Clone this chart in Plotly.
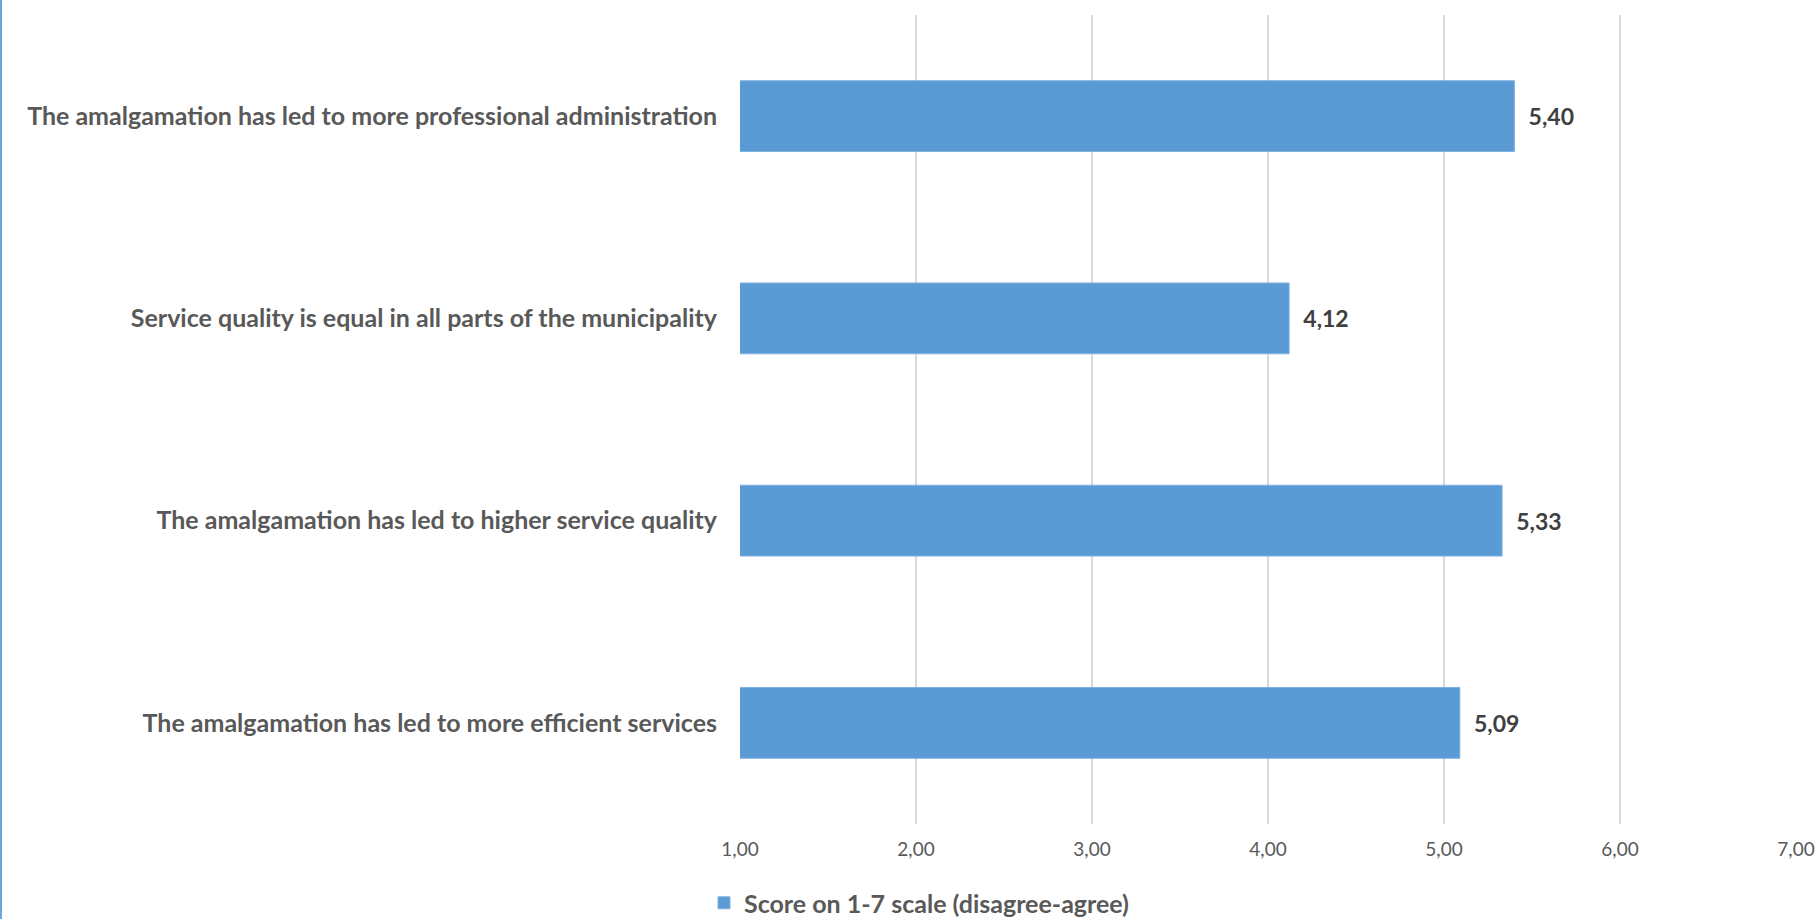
import plotly.graph_objects as go

categories = [
    "The amalgamation has led to more professional administration",
    "Service quality is equal in all parts of the municipality",
    "The amalgamation has led to higher service quality",
    "The amalgamation has led to more efficient services",
]
values = [5.40, 4.12, 5.33, 5.09]
series_name = "Score on 1-7 scale (disagree-agree)"
tick_vals = [1, 2, 3, 4, 5, 6, 7]
tick_text = ["1,00", "2,00", "3,00", "4,00", "5,00", "6,00", "7,00"]

W, H = 1818, 919
L, T = 740, 15
plot_right, plot_bottom = 1796, 824
R, B = W - plot_right, H - plot_bottom
pw, ph = W - L - R, H - T - B

FONT = "Lato"

fig = go.Figure()
fig.add_trace(go.Bar(
    y=categories,
    x=values,
    orientation="h",
    name=series_name,
    marker=dict(color="#5B9BD5", line=dict(color="#7FB2E0", width=1)),
    width=0.35,
    text=["\u00a0\u00a0" + f"{v:.2f}".replace(".", ",") for v in values],
    textposition="outside",
    textfont=dict(family=FONT, size=23, color="#404040", weight="bold"),
    cliponaxis=False,
    showlegend=True,
))

fig.update_layout(
    width=W, height=H,
    margin=dict(l=L, r=R, t=T, b=B, autoexpand=False),
    plot_bgcolor="white",
    paper_bgcolor="white",
    font=dict(family=FONT, color="#595959"),
    xaxis=dict(
        range=[1, 7],
        tickvals=tick_vals,
        ticktext=tick_text,
        showgrid=True,
        gridcolor="#D9D9D9",
        gridwidth=2,
        zeroline=False,
        showline=False,
        tickfont=dict(family=FONT, size=19, color="#595959"),
        ticks="",
        ticklabelstandoff=12,
        automargin=False,
    ),
    yaxis=dict(
        categoryorder="array",
        categoryarray=categories,
        autorange="reversed",
        showgrid=False,
        showline=False,
        ticks="",
        tickfont=dict(family=FONT, size=25, color="#595959", weight="bold"),
        ticklabelstandoff=22,
        automargin=False,
    ),
    legend=dict(
        orientation="h",
        xref="container",
        yref="container",
        x=704 / W,
        xanchor="left",
        y=(H - 903) / H,
        yanchor="middle",
        font=dict(family=FONT, size=25, color="#595959", weight="bold"),
        bgcolor="rgba(0,0,0,0)",
    ),
    shapes=[dict(
        type="line", xref="paper", yref="paper",
        x0=(1 - L) / pw, x1=(1 - L) / pw,
        y0=plot_bottom / ph, y1=(plot_bottom - H) / ph,
        line=dict(color="#6CA6E0", width=2),
    )],
)

fig.write_html(
    "out.html",
    config={"displayModeBar": False},
    post_script="document.body.style.margin='0';document.body.style.overflow='hidden';",
)
